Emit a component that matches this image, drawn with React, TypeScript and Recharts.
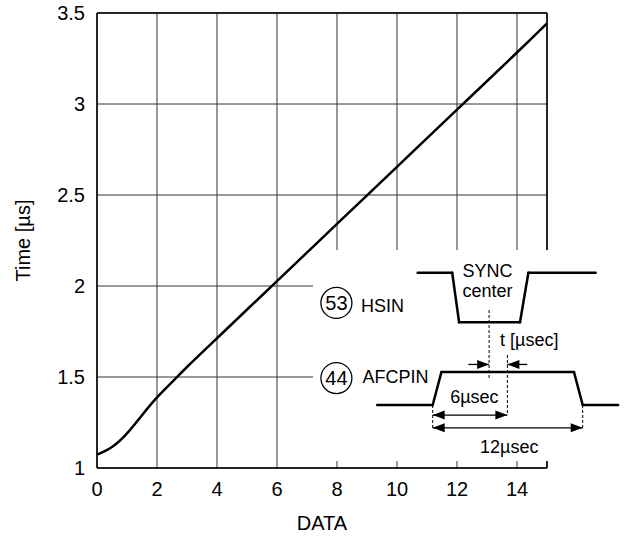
import React from "react";
import {
  LineChart,
  Line,
  XAxis,
  YAxis,
  CartesianGrid,
  ReferenceArea,
  ReferenceLine,
  ReferenceDot,
} from "recharts";

// main curve: DATA setting vs delay time
const dataX = [0, 0.5, 1, 1.5, 2, 2.5, 3, 4, 6, 8, 10, 12, 14, 15];
const timeUs = [1.073, 1.115, 1.19, 1.29, 1.388, 1.472, 1.555, 1.713, 2.027, 2.341, 2.655, 2.969, 3.283, 3.443];
const xTicks = [0, 2, 4, 6, 8, 10, 12, 14];
const yTicks = [1, 1.5, 2, 2.5, 3, 3.5];

// inset timing diagram, placed in chart units
const hsinWave = [[10.69, 2.073], [11.84, 2.073], [12.07, 1.801], [14.1, 1.801], [14.38, 2.073], [16.62, 2.073]];
const afcWave = [[9.34, 1.346], [11.19, 1.346], [11.48, 1.527], [15.9, 1.527], [16.19, 1.346], [17.37, 1.346]];
const dashLines = [[13.07, 1.868, 1.484], [13.68, 1.621, 1.291], [11.19, 1.346, 1.209], [16.19, 1.346, 1.209]];
const arrows = [
  { from: [12.38, 1.569], to: [13.07, 1.569], both: false },
  { from: [14.34, 1.569], to: [13.68, 1.569], both: false },
  { from: [11.19, 1.291], to: [13.68, 1.291], both: true },
  { from: [11.19, 1.221], to: [16.19, 1.221], both: true },
];
const centerTexts = [
  { text: "SYNC", x: 13.02, y: 2.086 },
  { text: "center", x: 13.02, y: 1.973 },
  { text: "t [µsec]", x: 14.41, y: 1.706 },
  { text: "6µsec", x: 12.58, y: 1.39 },
  { text: "12µsec", x: 13.74, y: 1.119 },
];
const pinTexts = [
  { text: "HSIN", x: 8.8, y: 1.894 },
  { text: "AFCPIN", x: 8.85, y: 1.5 },
];
const pinCircles = [
  { text: "53", x: 7.98, y: 1.907 },
  { text: "44", x: 7.98, y: 1.494 },
];

const curveData = dataX.map((x, i) => ({ x, t: timeUs[i] }));

const arrowShape = (both: boolean) => (p: any) => {
  const { x1, y1, x2, y2 } = p;
  const dir = Math.sign(x2 - x1) || 1;
  const len = 12;
  const hw = 4.5;
  const head = (x: number, y: number, d: number) => (
    <polygon points={`${x},${y} ${x - d * len},${y - hw} ${x - d * len},${y + hw}`} fill="#000" />
  );
  return (
    <g>
      <line x1={x1} y1={y1} x2={x2} y2={y2} stroke="#000" strokeWidth={1.3} />
      {head(x2, y2, dir)}
      {both && head(x1, y1, -dir)}
    </g>
  );
};

function segments(pts: number[][]) {
  return pts.slice(1).map((p, i) => [pts[i], p]);
}

export default function App() {
  return (
    <div style={{ position: "absolute", left: 0, top: 0, fontFamily: "'Liberation Sans', Arial, sans-serif" }}>
      <LineChart width={631} height={540} data={curveData} margin={{ top: 13, right: 84, left: 0, bottom: 0 }}>
        <CartesianGrid stroke="#333" strokeWidth={1} />
        <XAxis
          type="number"
          dataKey="x"
          domain={[0, 15]}
          ticks={xTicks}
          interval={0}
          height={72}
          tickLine={false}
          tickSize={6}
          tickMargin={8}
          axisLine={{ stroke: "#000", strokeWidth: 1.5 }}
          tick={{ fontSize: 20, fill: "#000" }}
          label={{ value: "DATA", position: "insideBottom", offset: 10, fontSize: 20, fill: "#000" }}
        />
        <YAxis
          type="number"
          domain={[1, 3.5]}
          ticks={yTicks}
          interval={0}
          width={97}
          tickLine={false}
          tickSize={6}
          tickMargin={6}
          axisLine={{ stroke: "#000", strokeWidth: 1.5 }}
          tick={{ fontSize: 20, fill: "#000" }}
          label={{
            value: "Time [µs]",
            angle: -90,
            position: "insideLeft",
            offset: 23,
            fontSize: 20,
            fill: "#000",
            style: { textAnchor: "middle" },
          }}
        />
        {/* plot frame: top and right (right side interrupted by inset) */}
        <ReferenceLine y={3.5} stroke="#000" strokeWidth={1.5} ifOverflow="visible" />
        <ReferenceLine segment={[{ x: 15, y: 3.5 }, { x: 15, y: 2.198 }]} stroke="#000" strokeWidth={1.5} ifOverflow="visible" />
        <ReferenceLine segment={[{ x: 15, y: 1.038 }, { x: 15, y: 1 }]} stroke="#000" strokeWidth={1.5} ifOverflow="visible" />
        {/* white panel behind the timing diagram */}
        <ReferenceArea x1={7.2} x2={18.5} y1={1.038} y2={2.198} fill="#fff" fillOpacity={1} stroke="none" ifOverflow="visible" />
        <Line type="natural" dataKey="t" stroke="#000" strokeWidth={2.5} dot={false} isAnimationActive={false} />

        {segments(hsinWave).map(([a, b], i) => (
          <ReferenceLine
            key={"h" + i}
            segment={[{ x: a[0], y: a[1] }, { x: b[0], y: b[1] }]}
            stroke="#000"
            strokeWidth={2.5}
            strokeLinecap="round"
            ifOverflow="visible"
          />
        ))}
        {segments(afcWave).map(([a, b], i) => (
          <ReferenceLine
            key={"a" + i}
            segment={[{ x: a[0], y: a[1] }, { x: b[0], y: b[1] }]}
            stroke="#000"
            strokeWidth={2.5}
            strokeLinecap="round"
            ifOverflow="visible"
          />
        ))}
        {dashLines.map(([x, ya, yb], i) => (
          <ReferenceLine
            key={"d" + i}
            segment={[{ x, y: ya }, { x, y: yb }]}
            stroke="#000"
            strokeWidth={1}
            strokeDasharray="3 2"
            ifOverflow="visible"
          />
        ))}
        {arrows.map((a, i) => (
          <ReferenceLine
            key={"r" + i}
            segment={[{ x: a.from[0], y: a.from[1] }, { x: a.to[0], y: a.to[1] }]}
            shape={arrowShape(a.both)}
            ifOverflow="visible"
          />
        ))}
        {pinCircles.map((c) => (
          <ReferenceDot
            key={c.text}
            x={c.x}
            y={c.y}
            r={15.5}
            fill="#fff"
            stroke="#000"
            strokeWidth={1.3}
            ifOverflow="visible"
            label={{ value: c.text, position: "center", fontSize: 20, fill: "#000" }}
          />
        ))}
        {pinTexts.map((c) => (
          <ReferenceDot
            key={c.text}
            x={c.x}
            y={c.y}
            r={0}
            stroke="none"
            ifOverflow="visible"
            label={{ value: c.text, position: "right", offset: 0, fontSize: 18, fill: "#000" }}
          />
        ))}
        {centerTexts.map((c) => (
          <ReferenceDot
            key={c.text}
            x={c.x}
            y={c.y}
            r={0}
            stroke="none"
            ifOverflow="visible"
            label={{ value: c.text, position: "center", fontSize: 18, fill: "#000" }}
          />
        ))}
      </LineChart>
    </div>
  );
}
